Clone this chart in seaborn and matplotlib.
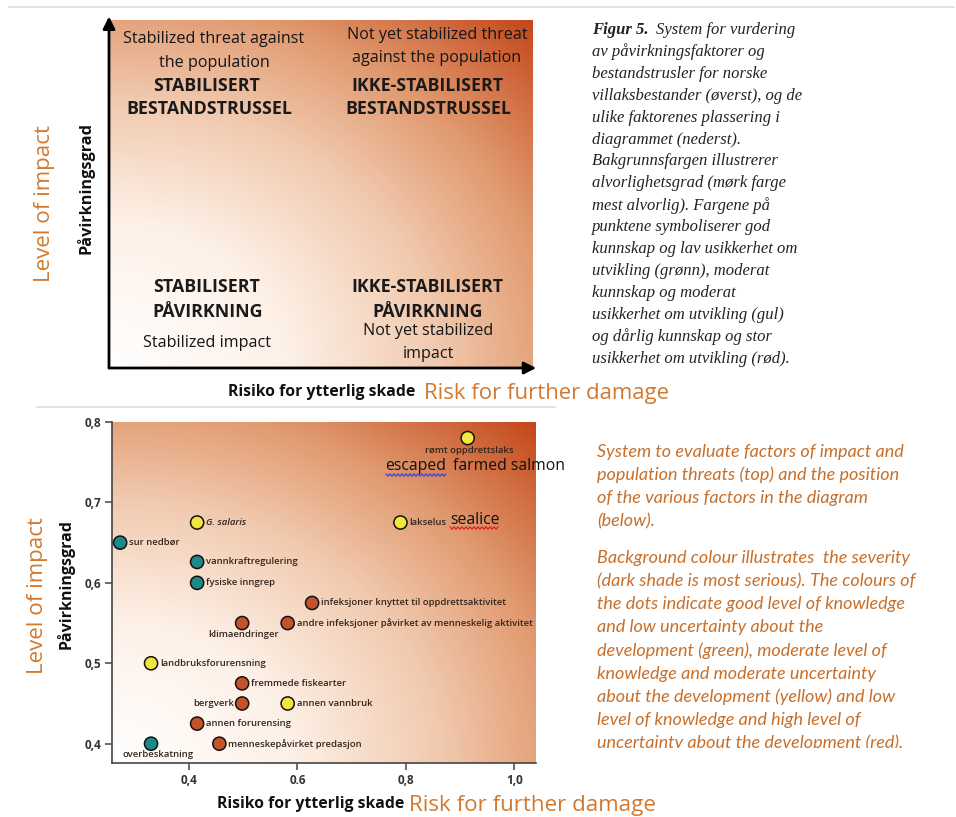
import numpy as np
import pandas as pd
import matplotlib
matplotlib.use("Agg")
import matplotlib.pyplot as plt
import seaborn as sns
from matplotlib.colors import LinearSegmentedColormap
from matplotlib.transforms import Bbox, TransformedBbox

# ---------------- data ----------------
factors = ["rømt oppdrettslaks", "G. salaris", "lakselus", "sur nedbør",
           "vannkraftregulering", "fysiske inngrep",
           "infeksjoner knyttet til oppdrettsaktivitet", "klimaendringer",
           "andre infeksjoner påvirket av menneskelig aktivitet",
           "landbruksforurensning", "fremmede fiskearter", "bergverk",
           "annen vannbruk", "annen forurensing", "overbeskatning",
           "menneskepåvirket predasjon"]
risk = [0.914, 0.415, 0.79, 0.273, 0.415, 0.415, 0.627, 0.498, 0.582,
        0.33, 0.498, 0.498, 0.582, 0.415, 0.33, 0.456]
impact = [0.78, 0.675, 0.675, 0.65, 0.626, 0.60, 0.575, 0.55, 0.55,
          0.50, 0.475, 0.45, 0.45, 0.425, 0.40, 0.40]
knowledge = ["gul", "gul", "gul", "grønn", "grønn", "grønn", "rød", "rød",
             "rød", "gul", "rød", "rød", "gul", "rød", "grønn", "rød"]
x_ticks = [0.4, 0.6, 0.8, 1.0]
x_tick_labels = ["0,4", "0.6", "0,8", "1,0"]
y_ticks = [0.4, 0.5, 0.6, 0.7, 0.8]
y_tick_labels = ["0,4", "0,5", "0,6", "0,7", "0,8"]

caption_no = [
    "System for vurdering",
    "av påvirkningsfaktorer og",
    "bestandstrusler for norske",
    "villaksbestander (øverst), og de",
    "ulike faktorenes plassering i",
    "diagrammet (nederst).",
    "Bakgrunnsfargen illustrerer",
    "alvorlighetsgrad (mørk farge",
    "mest alvorlig). Fargene på",
    "punktene symboliserer god",
    "kunnskap og lav usikkerhet om",
    "utvikling (grønn), moderat",
    "kunnskap og moderat",
    "usikkerhet om utvikling (gul)",
    "og dårlig kunnskap og stor",
    "usikkerhet om utvikling (rød).",
]
caption_en_1 = ["System to evaluate factors of impact and",
                "population threats (top) and the position",
                "of the various factors in the diagram",
                "(below)."]
caption_en_2 = ["Background colour illustrates  the severity",
                "(dark shade is most serious). The colours of",
                "the dots indicate good level of knowledge",
                "and low uncertainty about the",
                "development (green), moderate level of",
                "knowledge and moderate uncertainty",
                "about the development (yellow) and low",
                "level of knowledge and high level of",
                "uncertainty about the development (red)."]

df = pd.DataFrame({"faktor": factors, "risiko": risk, "paavirkning": impact,
                   "kunnskap": knowledge})

# ---------------- style ----------------
sns.set_style("white")
plt.rcParams["font.family"] = ["Open Sans", "DejaVu Sans"]

W, H = 956, 817
fig = plt.figure(figsize=(W / 100, H / 100), dpi=100)
fig.patch.set_facecolor("white")

ORANGE = "#d2792f"
palette = {"grønn": "#1d8a8a", "gul": "#f3e63c", "rød": "#c4532b"}
cmap = LinearSegmentedColormap.from_list(
    "sev", [(0, "#ffffff"), (0.3, "#fdf0e6"), (0.55, "#f1c9ae"),
            (0.75, "#e19a70"), (1.0, "#c4471a")])


def rect(x0, y0, x1, y1):
    return [x0 / W, 1 - y1 / H, (x1 - x0) / W, (y1 - y0) / H]


def T(x, y, s, **kw):
    kw.setdefault("ha", "center")
    kw.setdefault("va", "center")
    return fig.text(x / W, 1 - y / H, s, **kw)


def gradient(ax, extent):
    n = 300
    gx, gy = np.meshgrid(np.linspace(0, 1, n), np.linspace(0, 1, n))
    t = np.sqrt(gx ** 2 + gy ** 2) / np.sqrt(2)
    ax.imshow(t, cmap=cmap, origin="lower", extent=extent, aspect="auto",
              vmin=0, vmax=1, zorder=0, interpolation="bilinear")


# decorative lines
fig.add_artist(plt.Line2D([9 / W, 954 / W], [1 - 7 / H, 1 - 7 / H],
                          color="#dcdcdc", lw=1.2))
fig.add_artist(plt.Line2D([37 / W, 555 / W], [1 - 407 / H, 1 - 407 / H],
                          color="#dddddd", lw=1.2))

# ---------------- top conceptual diagram ----------------
axt = fig.add_axes(rect(109, 20, 532, 368))
gradient(axt, [0, 1, 0, 1])
axt.set_xlim(0, 1)
axt.set_ylim(0, 1)
axt.axis("off")
arrow = dict(arrowstyle="-|>", lw=2.0, color="black", mutation_scale=18,
             shrinkA=0, shrinkB=0)
axt.annotate("", xy=(0, 1.01), xytext=(0, 0), xycoords="axes fraction",
             arrowprops=arrow, annotation_clip=False)
axt.annotate("", xy=(1.01, 0), xytext=(0, 0), xycoords="axes fraction",
             arrowprops=arrow, annotation_clip=False)

qfs = 11.6
bfs = 12.8
QC = "#151515"
BC = "#1a1a1a"
T(214, 39, "Stabilized threat against", fontsize=qfs, color=QC)
T(214, 63, "the population", fontsize=qfs, color=QC)
T(207, 86, "STABILISERT", fontsize=bfs, fontweight="bold", color=BC)
T(209, 109, "BESTANDSTRUSSEL", fontsize=bfs, fontweight="bold", color=BC)
T(437, 35, "Not yet stabilized threat", fontsize=qfs, color=QC)
T(437, 58, "against the population", fontsize=qfs, color=QC)
T(427, 86, "IKKE-STABILISERT", fontsize=bfs, fontweight="bold", color=BC)
T(428, 109, "BESTANDSTRUSSEL", fontsize=bfs, fontweight="bold", color=BC)
T(207, 287, "STABILISERT", fontsize=bfs, fontweight="bold", color=BC)
T(208, 312, "PÅVIRKNING", fontsize=bfs, fontweight="bold", color=BC)
T(207, 343, "Stabilized impact", fontsize=qfs, color=QC)
T(427, 287, "IKKE-STABILISERT", fontsize=bfs, fontweight="bold", color=BC)
T(428, 312, "PÅVIRKNING", fontsize=bfs, fontweight="bold", color=BC)
T(428, 331, "Not yet stabilized", fontsize=qfs, color=QC)
T(428, 354, "impact", fontsize=qfs, color=QC)

T(45, 203, "Level of impact", fontsize=16.1, color=ORANGE, rotation=90)
T(85, 188, "Påvirkningsgrad", fontsize=11.7, fontweight="bold",
  color="#111111", rotation=90)
T(322, 392, "Risiko for ytterlig skade", fontsize=11.3, fontweight="bold",
  color="#111111")
T(424, 393, "Risk for further damage", fontsize=15.9, color=ORANGE, ha="left")

# ---------------- bottom scatter ----------------
xlim = (0.258, 1.04)
ylim = (0.376, 0.80)
ax = fig.add_axes(rect(112, 422, 536, 763))
gradient(ax, [xlim[0], xlim[1], ylim[0], ylim[1]])
sns.scatterplot(data=df, x="risiko", y="paavirkning", hue="kunnskap",
                palette=palette, s=90, edgecolor="#111111", linewidth=1.1,
                legend=False, ax=ax, zorder=3, clip_on=False)
ax.set_xlim(*xlim)
ax.set_ylim(*ylim)
ax.set_xlabel("")
ax.set_ylabel("")
ax.set_xticks(x_ticks)
ax.set_xticklabels(x_tick_labels)
ax.set_yticks(y_ticks)
ax.set_yticklabels(y_tick_labels)
for s in ["top", "right"]:
    ax.spines[s].set_visible(False)
for s in ["left", "bottom"]:
    ax.spines[s].set_color("#444444")
    ax.spines[s].set_linewidth(1.2)
ax.tick_params(axis="both", direction="out", length=5, width=1.1,
               color="#444444", labelsize=8.5, labelcolor="#333333", pad=3,
               left=True, bottom=True)
for lab in ax.get_xticklabels() + ax.get_yticklabels():
    lab.set_fontweight("bold")

placement = {
    "rømt oppdrettslaks": ((2, -12), "center"),
    "klimaendringer": ((1, -11), "center"),
    "bergverk": ((-8, 0), "right"),
    "overbeskatning": ((7, -11), "center"),
}
for f, xv, yv in zip(df["faktor"], df["risiko"], df["paavirkning"]):
    (dx, dy), ha = placement.get(f, ((9, 0), "left"))
    style = "italic" if f == "G. salaris" else "normal"
    ax.annotate(f, (xv, yv), xytext=(dx * 0.72, dy * 0.72),
                textcoords="offset points", ha=ha, va="center",
                fontsize=6.8, fontweight="semibold", color="#33261e",
                fontstyle=style, zorder=4, annotation_clip=False)

# overlay English labels
T(385, 466, "escaped", fontsize=11.3, color="#111111", ha="left")
T(453, 466, "farmed salmon", fontsize=11.3, color="#111111", ha="left")
T(450, 520, "sealice", fontsize=11.3, color="#111111", ha="left")


def squiggle(x0, x1, y, color):
    xs = np.arange(x0, x1 + 0.1, 2.0)
    ys = y + np.where(np.arange(len(xs)) % 2 == 0, -1.2, 1.2)
    fig.add_artist(plt.Line2D(xs / W, 1 - ys / H, color=color, lw=0.9))


squiggle(386, 446, 475, "#3344dd")
squiggle(450, 498, 528, "#dd2222")

T(38, 596, "Level of impact", fontsize=16.1, color=ORANGE, rotation=90)
T(66, 584, "Påvirkningsgrad", fontsize=11.5, fontweight="bold",
  color="#111111", rotation=90)
T(311, 804, "Risiko for ytterlig skade", fontsize=11.3, fontweight="bold",
  color="#111111")
T(409, 806, "Risk for further damage", fontsize=16.1, color=ORANGE, ha="left")

# ---------------- captions ----------------
serif = ["Liberation Serif", "DejaVu Serif"]
y0 = 30
step = 21.9
for i, line in enumerate(caption_no):
    y = y0 + i * step
    if i == 0:
        T(592, y, "Figur 5.", fontsize=12, family=serif, style="italic",
          fontweight="bold", color="#222222", ha="left")
        T(656, y, line, fontsize=12, family=serif, style="italic",
          color="#222222", ha="left")
    else:
        T(592, y, line, fontsize=12, family=serif, style="italic",
          color="#222222", ha="left")

sans2 = ["Lato", "DejaVu Sans"]
efs = 13.0
clipbox = TransformedBbox(Bbox([[0, 1 - 748 / H], [1, 1]]), fig.transFigure)
for i, line in enumerate(caption_en_1):
    T(597, 452 + i * 23, line, fontsize=efs, family=sans2, style="italic",
      color="#c86f2a", ha="left")
for i, line in enumerate(caption_en_2):
    t = T(597, 558 + i * 23.1, line, fontsize=efs, family=sans2,
          style="italic", color="#c86f2a", ha="left")
    t.set_clip_on(True)
    t.set_clip_box(clipbox)

fig.savefig("out.png", dpi=100, facecolor="white")
